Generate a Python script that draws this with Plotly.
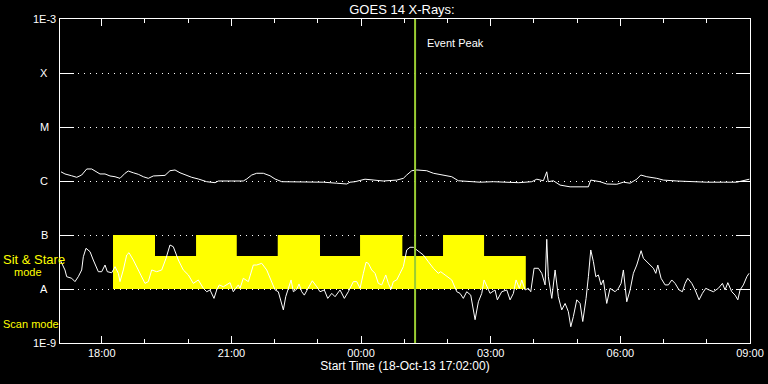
import numpy as np
import pandas as pd
import plotly.graph_objects as go

# ---------------- data ----------------
start_time = "2013-10-18 17:02:00"
end_time = "2013-10-19 09:00:00"
event_peak_time = "2013-10-19 01:15:00"

# long channel (1-8 A) : minutes after start, flux W/m^2
long_minutes = [1.4, 6.9, 16.2, 23.2, 30.1, 37.1, 44.0, 51.0, 55.5, 62.5,
                69.4, 76.4, 83.3, 90.3, 94.8, 101.8, 108.7, 115.7, 122.6, 129.6,
                138.9, 145.8, 152.7, 159.7, 166.6, 173.6, 182.9, 192.0, 203.7, 215.2,
                219.8, 238.4, 254.5, 259.3, 266.2, 273.1, 282.3, 291.6, 298.5, 307.9,
                326.3, 340.2, 365.6, 384.2, 398.1, 402.7, 409.6, 423.5, 435.0, 448.9,
                467.5, 476.7, 481.4, 488.4, 495.3, 509.2, 518.4, 532.2, 543.9, 553.1,
                569.3, 583.2, 601.7, 620.3, 636.8, 655.0, 662.0, 671.1, 675.8, 678.0,
                685.0, 694.3, 708.2, 733.6, 736.9, 749.8, 759.1, 773.0, 782.2, 791.5,
                800.8, 806.4, 814.7, 828.6, 837.7, 856.4, 874.8, 898.0, 921.1, 939.7,
                957.2]
long_flux = [1.48e-6, 1.35e-6, 1.25e-6, 1.17e-6, 1.29e-6, 1.67e-6, 1.67e-6, 1.48e-6, 1.35e-6, 1.35e-6,
             1.24e-6, 1.20e-6, 1.12e-6, 1.39e-6, 1.53e-6, 1.42e-6, 1.33e-6, 1.20e-6, 1.12e-6, 1.24e-6,
             1.27e-6, 1.27e-6, 1.55e-6, 1.60e-6, 1.42e-6, 1.29e-6, 1.17e-6, 1.09e-6, 0.97e-6, 0.93e-6,
             1.00e-6, 1.00e-6, 1.00e-6, 1.09e-6, 1.29e-6, 1.39e-6, 1.39e-6, 1.25e-6, 1.09e-6, 0.97e-6,
             0.97e-6, 0.97e-6, 0.95e-6, 0.91e-6, 0.88e-6, 0.95e-6, 0.97e-6, 1.08e-6, 1.04e-6, 1.00e-6,
             1.04e-6, 1.12e-6, 1.29e-6, 1.55e-6, 1.60e-6, 1.55e-6, 1.39e-6, 1.29e-6, 1.20e-6, 1.01e-6,
             0.97e-6, 0.95e-6, 0.97e-6, 0.95e-6, 0.93e-6, 0.97e-6, 1.08e-6, 1.01e-6, 1.48e-6, 0.97e-6,
             1.01e-6, 0.84e-6, 0.78e-6, 0.78e-6, 1.04e-6, 0.97e-6, 0.88e-6, 0.87e-6, 0.95e-6, 0.91e-6,
             1.08e-6, 1.29e-6, 1.20e-6, 1.12e-6, 1.04e-6, 1.00e-6, 0.97e-6, 0.95e-6, 0.95e-6, 0.95e-6,
             1.08e-6]

# short channel (0.5-4 A)
short_minutes = [1.0, 6.9, 9.3, 16.2, 20.8, 25.4, 30.1, 32.4, 36.1, 41.7,
                 46.2, 53.2, 57.9, 62.5, 65.7, 71.8, 76.4, 81.0, 83.3, 87.9,
                 92.6, 95.8, 101.8, 111.1, 118.0, 122.6, 127.3, 134.3, 141.2, 147.2,
                 152.7, 157.3, 164.3, 171.2, 178.2, 185.1, 192.0, 199.0, 203.7, 208.3,
                 213.8, 217.6, 221.2, 226.8, 236.1, 240.6, 247.6, 249.9, 254.5, 261.5,
                 268.4, 273.1, 280.1, 287.0, 294.0, 298.6, 303.1, 306.9, 310.1, 313.4,
                 317.0, 320.8, 324.0, 328.7, 331.9, 335.6, 339.2, 343.9, 350.3, 356.5,
                 361.0, 367.0, 371.7, 377.3, 381.9, 388.8, 394.8, 400.3, 407.3, 412.0,
                 416.6, 421.2, 424.9, 428.1, 432.8, 437.4, 442.0, 446.7, 452.3, 455.9,
                 459.6, 462.8, 467.5, 472.1, 476.7, 481.4, 486.0, 490.6, 497.5, 504.5,
                 511.4, 518.4, 525.3, 528.6, 534.6, 543.9, 550.9, 555.4, 560.0, 564.7,
                 570.3, 576.3, 580.9, 585.6, 588.8, 593.3, 597.1, 604.0, 607.2, 613.3,
                 620.3, 624.9, 629.5, 633.2, 637.8, 641.1, 645.7, 650.3, 653.6, 658.2,
                 664.2, 668.9, 673.5, 675.8, 678.0, 682.8, 687.4, 691.9, 696.6, 701.3,
                 705.8, 709.2, 712.8, 717.5, 722.1, 725.8, 730.4, 733.6, 736.9, 740.6,
                 743.9, 747.5, 751.2, 754.4, 759.1, 763.7, 770.7, 775.3, 779.0, 782.2,
                 786.9, 791.5, 796.1, 800.8, 804.0, 806.8, 810.0, 816.9, 823.9, 827.2,
                 830.0, 834.5, 840.1, 844.7, 849.4, 854.0, 859.5, 864.1, 867.9, 871.6,
                 877.2, 881.8, 887.3, 891.9, 896.6, 901.2, 907.2, 914.1, 919.7, 923.4,
                 927.2, 932.7, 937.3, 941.1, 944.2, 948.8, 953.6, 956.7]
short_flux = [3.30e-8, 2.25e-8, 1.69e-8, 1.58e-8, 1.37e-8, 1.69e-8, 2.25e-8, 3.96e-8, 5.67e-8, 4.91e-8,
              3.44e-8, 2.09e-8, 2.09e-8, 2.78e-8, 2.09e-8, 2.00e-8, 2.59e-8, 1.95e-8, 1.37e-8, 2.25e-8,
              4.26e-8, 4.70e-8, 3.44e-8, 1.95e-8, 1.27e-8, 1.37e-8, 2.25e-8, 2.09e-8, 2.25e-8, 3.70e-8,
              6.53e-8, 6.07e-8, 3.44e-8, 2.25e-8, 1.82e-8, 1.27e-8, 1.47e-8, 1.03e-8, 0.89e-8, 0.96e-8,
              0.67e-8, 0.96e-8, 1.19e-8, 1.10e-8, 1.31e-8, 0.89e-8, 1.19e-8, 1.03e-8, 1.58e-8, 1.37e-8,
              2.78e-8, 2.78e-8, 2.99e-8, 2.25e-8, 1.37e-8, 0.96e-8, 0.89e-8, 0.58e-8, 0.41e-8, 0.72e-8,
              1.03e-8, 1.47e-8, 0.89e-8, 0.99e-8, 1.24e-8, 0.89e-8, 0.77e-8, 0.99e-8, 1.42e-8, 1.10e-8,
              0.89e-8, 0.96e-8, 0.67e-8, 0.83e-8, 0.72e-8, 0.96e-8, 0.67e-8, 0.89e-8, 1.37e-8, 1.37e-8,
              1.03e-8, 1.95e-8, 3.12e-8, 2.99e-8, 2.25e-8, 1.95e-8, 1.27e-8, 1.19e-8, 1.82e-8, 1.27e-8,
              0.99e-8, 1.37e-8, 1.47e-8, 1.95e-8, 2.59e-8, 5.28e-8, 5.92e-8, 5.92e-8, 5.12e-8, 4.26e-8,
              3.20e-8, 2.42e-8, 1.95e-8, 2.09e-8, 1.82e-8, 1.47e-8, 0.89e-8, 0.83e-8, 0.67e-8, 0.89e-8,
              0.77e-8, 0.27e-8, 0.58e-8, 0.83e-8, 1.47e-8, 1.10e-8, 0.83e-8, 0.96e-8, 0.63e-8, 0.89e-8,
              0.96e-8, 0.63e-8, 0.83e-8, 1.47e-8, 1.03e-8, 1.47e-8, 0.96e-8, 1.03e-8, 0.89e-8, 2.42e-8,
              2.42e-8, 1.95e-8, 1.19e-8, 8.32e-8, 1.69e-8, 0.67e-8, 2.25e-8, 0.72e-8, 0.41e-8, 0.54e-8,
              0.38e-8, 0.20e-8, 0.31e-8, 0.63e-8, 0.54e-8, 0.25e-8, 0.67e-8, 1.69e-8, 5.28e-8, 3.20e-8,
              1.69e-8, 1.82e-8, 1.19e-8, 1.47e-8, 0.54e-8, 1.03e-8, 0.89e-8, 1.03e-8, 1.27e-8, 2.25e-8,
              0.58e-8, 0.96e-8, 1.95e-8, 2.78e-8, 3.96e-8, 5.12e-8, 3.70e-8, 2.99e-8, 2.42e-8, 1.95e-8,
              2.78e-8, 1.58e-8, 1.19e-8, 1.19e-8, 1.47e-8, 1.27e-8, 0.96e-8, 0.89e-8, 1.27e-8, 1.58e-8,
              1.27e-8, 0.96e-8, 0.63e-8, 0.83e-8, 1.03e-8, 0.96e-8, 0.89e-8, 1.03e-8, 1.27e-8, 0.96e-8,
              1.31e-8, 0.89e-8, 0.77e-8, 0.63e-8, 0.96e-8, 1.19e-8, 1.69e-8, 1.95e-8]

# observing-mode bar (Sit & Stare): change times (minutes after start) and segment levels
mode_change_minutes = [73.6, 131.9, 188.9, 245.4, 302.3, 361.0, 416.6, 475.3, 531.8, 588.8, 646.7]
mode_levels = [1.0e-7, 4.1e-8, 1.0e-7, 4.1e-8, 1.0e-7, 4.1e-8, 1.0e-7, 4.1e-8, 1.0e-7, 4.1e-8]
mode_base = 1.0e-8

level_values = [1e-9, 1e-8, 1e-7, 1e-6, 1e-5, 1e-4, 1e-3]
level_labels = ["1E-9", "A", "B", "C", "M", "X", "1E-3"]

# ---------------- figure ----------------
t0 = pd.Timestamp(start_time)
long_t = t0 + pd.to_timedelta(long_minutes, unit="min")
short_t = t0 + pd.to_timedelta(short_minutes, unit="min")
mode_t = t0 + pd.to_timedelta(mode_change_minutes, unit="min")

poly_x = [mode_t[0]]
poly_y = [mode_base]
for i, lvl in enumerate(mode_levels):
    poly_x += [mode_t[i], mode_t[i + 1]]
    poly_y += [lvl, lvl]
poly_x += [mode_t[-1], mode_t[0]]
poly_y += [mode_base, mode_base]

fig = go.Figure()
fig.add_trace(go.Scatter(x=poly_x, y=poly_y, mode="lines", fill="toself",
                         fillcolor="#ffff00", line=dict(color="#ffff00", width=0),
                         hoverinfo="skip"))
fig.add_trace(go.Scatter(x=long_t, y=long_flux, mode="lines",
                         line=dict(color="white", width=1)))
fig.add_trace(go.Scatter(x=short_t, y=short_flux, mode="lines",
                         line=dict(color="white", width=1)))

fig.add_shape(type="line", xref="x", yref="paper", x0=event_peak_time, x1=event_peak_time,
              y0=0, y1=1, line=dict(color="#9acd32", width=2), layer="above")

FONT = "Liberation Sans"
annotations = []
for v, lab in zip(level_values, level_labels):
    annotations.append(dict(text=lab, xref="paper", yref="y", x=(44 - 60) / 690, y=np.log10(v),
                            xanchor="center", yanchor="middle", showarrow=False,
                            font=dict(family=FONT, size=11, color="white")))
annotations += [
    dict(text="Sit & Stare", xref="paper", yref="paper", x=(1 - 60) / 690, y=(343 - 259) / 324,
         xanchor="left", yanchor="middle", showarrow=False,
         font=dict(family=FONT, size=13, color="#ffff00")),
    dict(text="mode", xref="paper", yref="paper", x=(12 - 60) / 690, y=(343 - 271.5) / 324,
         xanchor="left", yanchor="middle", showarrow=False,
         font=dict(family=FONT, size=11, color="#ffff00")),
    dict(text="Scan mode", xref="paper", yref="paper", x=(1 - 60) / 690, y=(343 - 324) / 324,
         xanchor="left", yanchor="middle", showarrow=False,
         font=dict(family=FONT, size=11, color="#ffff00")),
    dict(text="Event Peak", xref="x", yref="paper", x=event_peak_time, xshift=10,
         y=(343 - 43) / 324, xanchor="left", yanchor="middle", showarrow=False,
         font=dict(family=FONT, size=11, color="white")),
]

fig.update_layout(
    width=768, height=384, autosize=False,
    paper_bgcolor="black", plot_bgcolor="black",
    margin=dict(l=60, r=18, t=19, b=41, pad=0, autoexpand=False),
    showlegend=False,
    font=dict(family=FONT, color="white", size=11),
    title=dict(text="GOES 14 X-Rays:", x=402 / 768, xanchor="center", xref="container",
               y=1 - 9 / 384, yanchor="middle", yref="container",
               font=dict(family=FONT, size=13, color="white")),
    annotations=annotations,
    xaxis=dict(type="date", range=[start_time, end_time], automargin=False,
               tick0="2013-10-18 18:00:00", dtick=3 * 3600000, tickformat="%H:%M",
               ticks="inside", ticklen=7, tickcolor="white", tickwidth=1,
               showline=True, linecolor="white", linewidth=1, mirror="ticks",
               showgrid=False, zeroline=False,
               tickfont=dict(family=FONT, size=11, color="white"),
               minor=dict(tick0="2013-10-18 18:00:00", dtick=3600000, ticks="inside",
                          ticklen=4, tickcolor="white", showgrid=False),
               title=dict(text="Start Time (18-Oct-13 17:02:00)", standoff=2,
                          font=dict(family=FONT, size=12, color="white"))),
    yaxis=dict(type="log", range=[-9, -3], tickvals=level_values, showticklabels=False,
               automargin=False,
               ticks="inside", ticklen=14, tickcolor="white", tickwidth=1,
               showline=True, linecolor="white", linewidth=1, mirror="ticks",
               showgrid=True, gridcolor="white", gridwidth=1, griddash="1px,5px",
               zeroline=False),
)

fig.write_html("out.html", config={"displayModeBar": False},
               post_script="document.body.style.margin='0';")
